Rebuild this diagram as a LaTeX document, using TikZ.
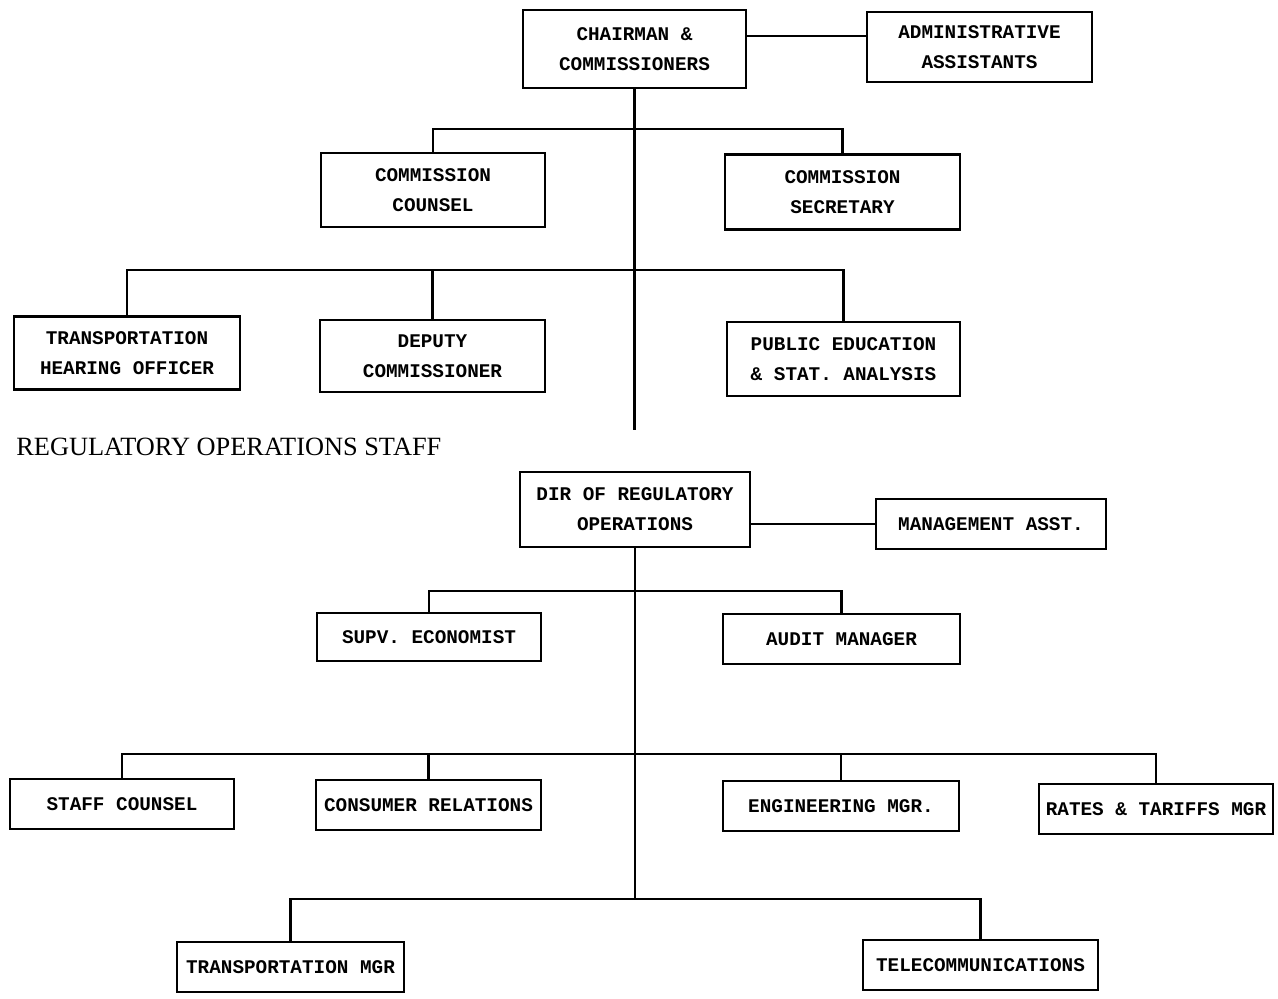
\documentclass[tikz,border=0pt]{standalone}
\usepackage{fontspec}
\setmainfont{Liberation Serif}
\newfontfamily\boxfont{Liberation Mono}
\usetikzlibrary{calc}

\begin{document}
\begin{tikzpicture}[x=0.02cm,y=-0.02cm,
  box/.style={draw,line width=1.6pt,align=center,inner sep=0pt,
    font=\boxfont\bfseries\fontsize{11}{17}\selectfont},
  link/.style={line width=1.5pt}]
  \useasboundingbox (0,0) rectangle (1278,999);
  % commission
  \node[box,minimum width=4.46cm,minimum height=1.56cm](chair) at (634.5,49){CHAIRMAN \&\\COMMISSIONERS};
  \node[box,minimum width=4.50cm,minimum height=1.40cm](admin) at (979.5,47){ADMINISTRATIVE\\ASSISTANTS};
  \node[box,minimum width=4.48cm,minimum height=1.48cm](counsel) at (433,190){COMMISSION\\COUNSEL};
  \node[box,minimum width=4.70cm,minimum height=1.50cm](secr) at (842.5,192){COMMISSION\\SECRETARY};
  \node[box,minimum width=4.52cm,minimum height=1.46cm](hearing) at (127,353){TRANSPORTATION\\HEARING OFFICER};
  \node[box,minimum width=4.50cm,minimum height=1.44cm](deputy) at (432.5,356){DEPUTY\\COMMISSIONER};
  \node[box,minimum width=4.66cm,minimum height=1.48cm](pubed) at (843.5,359){PUBLIC EDUCATION\\\& STAT. ANALYSIS};
  \node[font=\fontsize{15}{17}\selectfont,anchor=west,inner sep=0pt](regstaff) at (16,447){REGULATORY OPERATIONS STAFF};
  % regulatory operations
  \node[box,minimum width=4.60cm,minimum height=1.50cm](dir) at (635,509.5){DIR OF REGULATORY\\OPERATIONS};
  \node[box,minimum width=4.60cm,minimum height=1.00cm](mgmt) at (991,524){MANAGEMENT ASST.};
  \node[box,minimum width=4.48cm,minimum height=0.96cm](supv) at (429,637){SUPV. ECONOMIST};
  \node[box,minimum width=4.74cm,minimum height=1.00cm](audit) at (841.5,639){AUDIT MANAGER};
  \node[box,minimum width=4.48cm,minimum height=1.00cm](staff) at (122,804){STAFF COUNSEL};
  \node[box,minimum width=4.50cm,minimum height=1.00cm](consumer) at (428.5,805){CONSUMER RELATIONS};
  \node[box,minimum width=4.72cm,minimum height=1.00cm](eng) at (841,806){ENGINEERING MGR.};
  \node[box,minimum width=4.68cm,minimum height=1.00cm](rates) at (1156,809){RATES \& TARIFFS MGR};
  \node[box,minimum width=4.54cm,minimum height=1.00cm](tmgr) at (290.5,967){TRANSPORTATION MGR};
  \node[box,minimum width=4.70cm,minimum height=1.00cm](tele) at (980.5,965){TELECOMMUNICATIONS};
  % bus levels
  \coordinate (lvl0) at (0,36);
  \coordinate (lvl1) at (0,129);
  \coordinate (lvl2) at (0,270);
  \coordinate (trunkend) at (634.5,430);
  \coordinate (lvl3) at (0,591);
  \coordinate (lvl4) at (0,754);
  \coordinate (lvl5) at (0,899);
  % connectors
  \draw[link] (chair.east |- lvl0) -- (admin.west |- lvl0);
  \draw[link] (chair.south) -- (trunkend);
  \draw[link] (counsel.north) -- (counsel.north |- lvl1) -- (secr.north |- lvl1) -- (secr.north);
  \draw[link] (hearing.north) -- (hearing.north |- lvl2) -- (pubed.north |- lvl2) -- (pubed.north);
  \draw[link] (deputy.north) -- (deputy.north |- lvl2);
  \draw[link] (mgmt.west) -- (mgmt.west -| dir.east);
  \draw[link] (dir.south) -- (dir.south |- lvl5);
  \draw[link] (supv.north) -- (supv.north |- lvl3) -- (audit.north |- lvl3) -- (audit.north);
  \draw[link] (staff.north) -- (staff.north |- lvl4) -- (rates.north |- lvl4) -- (rates.north);
  \draw[link] (consumer.north) -- (consumer.north |- lvl4);
  \draw[link] (eng.north) -- (eng.north |- lvl4);
  \draw[link] (tmgr.north) -- (tmgr.north |- lvl5) -- (tele.north |- lvl5) -- (tele.north);
\end{tikzpicture}
\end{document}
